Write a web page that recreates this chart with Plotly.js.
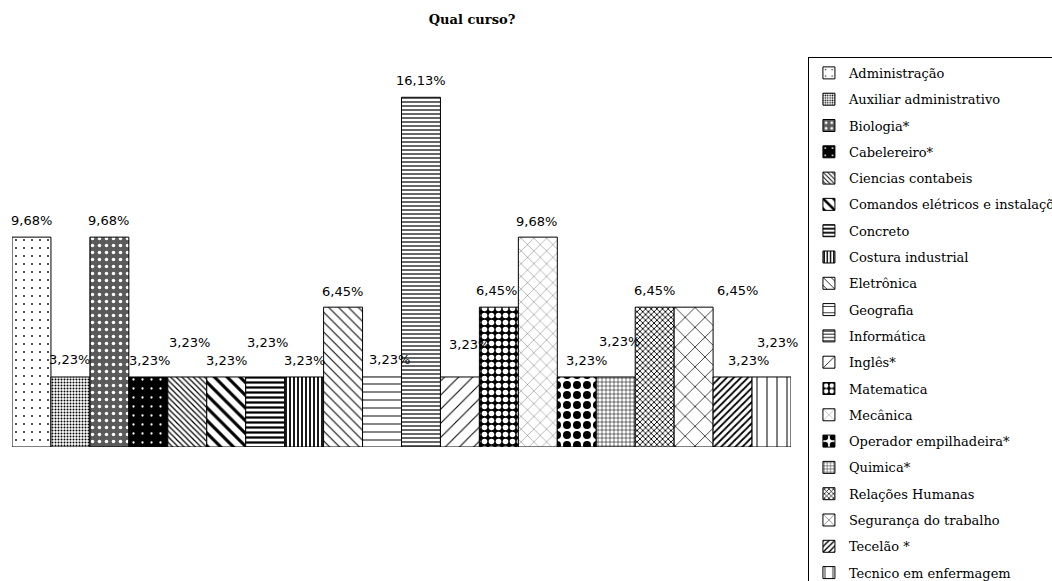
<!DOCTYPE html>
<html>
<head>
<meta charset="utf-8">
<script src="https://cdn.plot.ly/plotly-3.0.1.min.js"></script>
<style>html,body{margin:0;padding:0;background:#fff;}#chart{width:1052px;height:581px;}</style>
</head>
<body>
<div id="chart"></div>
<script>
// ---- data ----
const courses = [
  "Administração", "Auxiliar administrativo", "Biologia*", "Cabelereiro*",
  "Ciencias contabeis", "Comandos elétricos e instalações", "Concreto",
  "Costura industrial", "Eletrônica", "Geografia", "Informática", "Inglês*",
  "Matematica", "Mecânica", "Operador empilhadeira*", "Quimica*",
  "Relações Humanas", "Segurança do trabalho", "Tecelão *", "Tecnico em enfermagem"
];
const percents = [
  9.68, 3.23, 9.68, 3.23, 3.23, 3.23, 3.23, 3.23, 6.45, 3.23,
  16.13, 3.23, 6.45, 9.68, 3.23, 3.23, 6.45, 6.45, 3.23, 3.23
];

// ---- styles (patterns) ----
const patterns = [
  {shape: ".", size: 8, solidity: 0.04, fgcolor: "#000", bgcolor: "#fff"},
  {shape: ".", size: 3, solidity: 0.35, fgcolor: "#000", bgcolor: "#fff"},
  {shape: ".", size: 7, solidity: 0.2, fgcolor: "#fff", bgcolor: "#5a5a5a"},
  {shape: ".", size: 9, solidity: 0.05, fgcolor: "#fff", bgcolor: "#000"},
  {shape: "\\", size: 4, solidity: 0.3, fgcolor: "#000", bgcolor: "#fff"},
  {shape: "\\", size: 9, solidity: 0.35, fgcolor: "#000", bgcolor: "#fff"},
  {shape: "-", size: 5, solidity: 0.45, fgcolor: "#000", bgcolor: "#fff"},
  {shape: "|", size: 4, solidity: 0.45, fgcolor: "#000", bgcolor: "#fff"},
  {shape: "\\", size: 7, solidity: 0.15, fgcolor: "#000", bgcolor: "#fff"},
  {shape: "-", size: 8, solidity: 0.12, fgcolor: "#000", bgcolor: "#fff"},
  {shape: "-", size: 4, solidity: 0.3, fgcolor: "#000", bgcolor: "#fff"},
  {shape: "/", size: 10, solidity: 0.1, fgcolor: "#000", bgcolor: "#fff"},
  {shape: ".", size: 7, solidity: 0.5, fgcolor: "#fff", bgcolor: "#000"},
  {shape: "x", size: 9, solidity: 0.06, fgcolor: "#000", bgcolor: "#fff"},
  {shape: ".", size: 10, solidity: 0.5, fgcolor: "#000", bgcolor: "#fff"},
  {shape: "+", size: 4, solidity: 0.25, fgcolor: "#000", bgcolor: "#fff"},
  {shape: "x", size: 4, solidity: 0.4, fgcolor: "#000", bgcolor: "#fff"},
  {shape: "x", size: 14, solidity: 0.1, fgcolor: "#000", bgcolor: "#fff"},
  {shape: "/", size: 5, solidity: 0.35, fgcolor: "#000", bgcolor: "#fff"},
  {shape: "|", size: 10, solidity: 0.1, fgcolor: "#000", bgcolor: "#fff"}
];
// label nudges in pixels (Excel moved some labels to avoid overlaps)
const labelDx = [0, -1, -1, 1, 2, 0, 2, 0, -1, 7, 0, 10, -2, -1, 10, 4, 0, 44, 16, 6];
const labelDy = [17, 17, 17, 16, 34, 16, 34, 16, 16, 17, 17, 32, 17, 16, 16, 35, 17, 17, 16, 34];

const fmt = v => v.toFixed(2).replace(".", ",") + "%";

const traces = courses.map((c, i) => ({
  type: "bar",
  x: [c],
  y: [percents[i]],
  name: c,
  legendgroup: c,
  marker: {
    color: patterns[i].bgcolor,
    line: {color: "#000", width: 1},
    pattern: Object.assign({fillmode: "replace"}, patterns[i])
  },
  hoverinfo: "name+y"
}));

const annotations = courses.map((c, i) => ({
  x: c, y: percents[i], xref: "x", yref: "y",
  text: fmt(percents[i]),
  showarrow: false,
  xanchor: "center", yanchor: "middle",
  xshift: labelDx[i], yshift: labelDy[i],
  font: {family: "DejaVu Sans", size: 13, color: "#000"}
}));

const layout = {
  width: 1052, height: 581,
  margin: {l: 12, r: 261, t: 60, b: 134, autoexpand: false},
  paper_bgcolor: "#fff", plot_bgcolor: "#fff",
  barmode: "overlay", bargap: 0,
  showlegend: true,
  title: {
    text: "Qual curso?",
    x: 0.4487, xref: "container", xanchor: "center",
    y: 0.966, yref: "container", yanchor: "middle",
    font: {family: "DejaVu Serif", size: 13, weight: 700, color: "#000"}
  },
  xaxis: {range: [-0.5, 19.5], showticklabels: false, showgrid: false, zeroline: false, showline: false, ticks: "", fixedrange: true},
  yaxis: {visible: false, range: [0, 17.85], showgrid: false, zeroline: false, fixedrange: true},
  legend: {
    xref: "container", x: 0.768, xanchor: "left",
    yref: "container", y: 0.902, yanchor: "top",
    bordercolor: "#000", borderwidth: 1, bgcolor: "#fff",
    font: {family: "DejaVu Serif", size: 13, color: "#000"},
    traceorder: "grouped", tracegroupgap: 6.4, maxheight: 1000
  },
  annotations: annotations
};

Plotly.newPlot("chart", traces, layout, {displayModeBar: false, staticPlot: true});
</script>
</body>
</html>
